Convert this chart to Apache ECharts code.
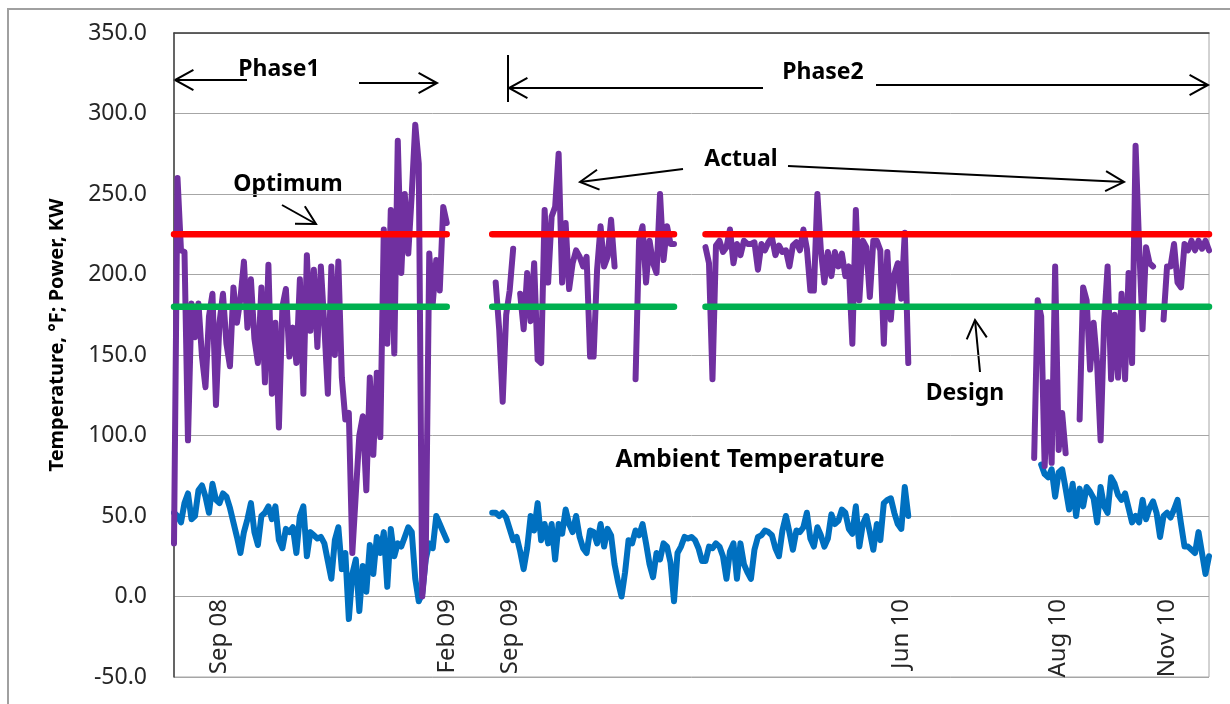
<!DOCTYPE html>
<html><head><meta charset="utf-8">
<script src="https://cdn.jsdelivr.net/npm/echarts/dist/echarts.min.js"></script>
<style>html,body{margin:0;padding:0;background:#fff}#chart{width:1230px;height:704px}</style>
</head><body><div id="chart"></div>
<script>
// ---------- DATA ----------
const sampleCount = 297;
const xTickIdx = [13, 78, 96, 208, 253, 284];
const xTickLabels = ['Sep 08', 'Feb 09', 'Sep 09', 'Jun 10', 'Aug 10', 'Nov 10'];

// Actual power (purple), by segment start sample
const actualPhase1Start = 0;
const actualPhase1 = [33, 260, 215, 214, 97, 182, 161, 182, 149, 130,
 174, 188, 119, 170, 188, 157, 143, 192, 170, 185,
 208, 167, 197, 160, 145, 192, 133, 206, 126, 170,
 105, 180, 191, 149, 167, 145, 197, 126, 212, 165,
 203, 155, 205, 168, 126, 205, 150, 208, 136, 110,
 114, 27, 64, 100, 112, 66, 136, 88, 139, 99,
 228, 157, 240, 151, 283, 201, 250, 213, 250, 293,
 269, 0, 25, 213, 182, 209, 190, 242, 232];
const actualPhase2aStart = 91;
const actualPhase2a = [null, 195, 166, 121, 175, 190, 216, null, 188, 166,
 201, 171, 207, 147, 145, 240, 195, 236, 242, 275,
 195, 232, 191, 207, 215, 211, 205, 211, 149, 149,
 203, 230, 205, 211, 234, 205, null, null, null, null,
 null, 135, 221, 230, 195, 221, 207, 201, 250, 209,
 230, 219, 219];
const actualPhase2bStart = 152;
const actualPhase2b = [217, 207, 135, 218, 221, 214, 217, 228, 207, 219,
 212, 221, 219, 219, 220, 203, 219, 215, 220, 223,
 212, 218, 214, 215, 205, 218, 220, 215, 228, 216,
 190, 190, 250, 215, 195, 214, 199, 214, 205, 213,
 199, 205, 157, 240, 184, 221, 217, 186, 221, 221,
 215, 157, 214, 172, 200, 207, 185, 226, 145];
const actualPhase2cStart = 246;
const actualPhase2c = [86, 184, 174, 81, 133, 83, 205, 91, 114, 89,
 null, null, null, 110, 192, 184, 141, 170, 145, 97,
 170, 205, 135, 175, 136, 188, 135, 201, 145, 280,
 219, 166, 217, 207, 205, null, null, 172, 205, 205,
 219, 195, 192, 219, 215, 221, 215, 221, 216, 221,
 215];

// Ambient temperature (blue)
const ambientPhase1Start = 0;
const ambientPhase1 = [52, 50, 46, 58, 64, 48, 50, 66, 69, 62,
 52, 70, 60, 58, 64, 62, 55, 46, 37, 27,
 40, 48, 58, 40, 32, 50, 52, 56, 48, 56,
 35, 30, 42, 40, 43, 27, 50, 56, 25, 40,
 38, 36, 37, 33, 22, 11, 35, 43, 17, 27,
 -14, 14, 23, -9, 19, 3, 32, 14, 37, 27,
 40, 6, 42, 25, 33, 31, 37, 43, 40, 11,
 -3, 2, 23, 33, 30, 50, 45, 40, 35];
const ambientPhase2aStart = 91;
const ambientPhase2a = [52, 52, 50, 52, 49, 42, 35, 37, 28, 17,
 30, 50, 41, 58, 35, 45, 33, 45, 23, 45,
 39, 54, 45, 40, 50, 37, 30, 27, 41, 40,
 33, 45, 31, 42, 38, 20, 9, 0, 15, 35,
 33, 41, 38, 45, 33, 20, 12, 27, 23, 33,
 31, 21, -3, 27, 31, 37, 36, 37, 35, 30,
 22, 22, 31, 30, 33, 31, 25, 11, 28, 33,
 11, 33, 20, 15, 11, 29, 37, 38, 41, 40,
 38, 30, 25, 41, 50, 40, 29, 41, 40, 43,
 52, 36, 31, 43, 38, 31, 36, 51, 45, 47,
 54, 52, 42, 39, 56, 31, 45, 50, 40, 29,
 45, 35, 58, 60, 61, 52, 45, 42, 68, 50];
const ambientPhase2bStart = 248;
const ambientPhase2b = [82, 76, 74, 79, 62, 77, 79, 67, 54, 70,
 50, 67, 56, 68, 65, 61, 46, 68, 56, 52,
 74, 70, 63, 60, 64, 55, 46, 50, 46, 60,
 48, 55, 59, 52, 37, 50, 52, 49, 54, 60,
 45, 31, 31, 29, 27, 40, 27, 14, 25];

// Reference levels and the sample spans where they are drawn
const optimumValue = 225;
const designValue = 180;
const referenceSpans = [[0, 78], [91, 143], [152, 296]];

// ---------- BUILD ----------
function place(segments) {
  const out = new Array(sampleCount).fill(null);
  segments.forEach(([start, arr]) => arr.forEach((v, k) => { out[start + k] = v; }));
  return out;
}
function level(value) {
  const out = new Array(sampleCount).fill(null);
  referenceSpans.forEach(([a, b]) => { for (let i = a; i <= b; i++) out[i] = value; });
  return out;
}
const categories = Array.from({length: sampleCount}, (_, i) => String(i));
const actual = place([[actualPhase1Start, actualPhase1], [actualPhase2aStart, actualPhase2a],
                      [actualPhase2bStart, actualPhase2b], [actualPhase2cStart, actualPhase2c]]);
const ambient = place([[ambientPhase1Start, ambientPhase1], [ambientPhase2aStart, ambientPhase2a],
                       [ambientPhase2bStart, ambientPhase2b]]);
const optimum = level(optimumValue);
const design = level(designValue);

const FONT = '"Noto Sans", "Open Sans", sans-serif';
function arrow(x1, y1, x2, y2) {
  const a = Math.atan2(y2 - y1, x2 - x1), L = 21, w = 0.5;
  const p1 = [x2 - L * Math.cos(a - w), y2 - L * Math.sin(a - w)];
  const p2 = [x2 - L * Math.cos(a + w), y2 - L * Math.sin(a + w)];
  return [
    {type: 'line', silent: true, shape: {x1, y1, x2, y2}, style: {stroke: '#000', lineWidth: 2}},
    {type: 'polyline', silent: true, shape: {points: [p1, [x2, y2], p2]}, style: {stroke: '#000', lineWidth: 2, fill: null}}
  ];
}
function label(text, x, y, size) {
  return {type: 'text', silent: true, x, y, style: {text, fontFamily: FONT, fontWeight: 'bold', fontSize: size || 23, fill: '#000', align: 'center', verticalAlign: 'middle'}};
}

const graphics = [
  {type: 'rect', silent: true, shape: {x: 8, y: 9, width: 1300, height: 800}, style: {fill: null, stroke: '#a0a0a0', lineWidth: 2}},
  {type: 'text', silent: true, x: 57, y: 335, rotation: Math.PI / 2,
   style: {text: 'Temperature, °F; Power, KW', fontFamily: FONT, fontWeight: 'bold', fontSize: 20, fill: '#000', align: 'center', verticalAlign: 'middle'}},
  label('Phase1', 279, 69),
  label('Phase2', 823, 72),
  label('Optimum', 288, 184),
  label('Actual', 741, 159),
  label('Design', 965, 393),
  label('Ambient Temperature', 750, 460, 24.5),
  {type: 'line', silent: true, shape: {x1: 508, y1: 55, x2: 508, y2: 102}, style: {stroke: '#000', lineWidth: 2}},
  ...arrow(247, 80, 175, 80),
  ...arrow(359, 83, 437, 83),
  ...arrow(763, 88, 509, 88),
  ...arrow(876, 85, 1208, 85),
  ...arrow(282, 205, 316, 224),
  ...arrow(683, 169, 580, 182),
  ...arrow(788, 166, 1124, 182),
  ...arrow(980, 372, 975, 320)
];

const chart = echarts.init(document.getElementById('chart'));
chart.setOption({
  animation: false,
  backgroundColor: '#fff',
  grid: {left: 174, right: 21, top: 33, bottom: 27, show: true, borderColor: '#a6a6a6', borderWidth: 1,
         containLabel: false, outerBoundsMode: 'none'},
  xAxis: [{
    type: 'category', data: categories, boundaryGap: false, offset: -81,
    axisLine: {show: false, onZero: false},
    axisTick: {show: false}, splitLine: {show: false},
    axisLabel: {
      interval: (i) => xTickIdx.includes(i),
      formatter: (v, i) => xTickLabels[xTickIdx.indexOf(i)] || '',
      rotate: 90, margin: 3, fontFamily: FONT, fontSize: 24, color: '#262626'
    }
  }, {
    type: 'category', data: categories, boundaryGap: false, position: 'top',
    axisLine: {show: true, onZero: false, lineStyle: {color: '#404040', width: 1.5}},
    axisTick: {show: false}, axisLabel: {show: false}, splitLine: {show: false}
  }],
  yAxis: {
    type: 'value', min: -50, max: 350, interval: 50,
    axisLine: {show: true, lineStyle: {color: '#404040', width: 1.5}},
    axisTick: {show: false},
    splitLine: {lineStyle: {color: '#a6a6a6', width: 1}},
    axisLabel: {formatter: (v) => v.toFixed(1), fontFamily: FONT, fontSize: 23, color: '#262626', margin: 27}
  },
  series: [
    {name: 'Ambient Temperature', type: 'line', data: ambient, symbol: 'none', z: 2,
     lineStyle: {color: '#0070C0', width: 6, cap: 'round', join: 'round'}},
    {name: 'Actual', type: 'line', data: actual, symbol: 'none', z: 3,
     lineStyle: {color: '#7030A0', width: 6, cap: 'round', join: 'round'}},
    {name: 'Design', type: 'line', data: design, symbol: 'none', z: 4,
     lineStyle: {color: '#00B050', width: 6.5, cap: 'round'}},
    {name: 'Optimum', type: 'line', data: optimum, symbol: 'none', z: 5,
     lineStyle: {color: '#FF0000', width: 6.5, cap: 'round'}}
  ],
  graphic: graphics
});
</script></body></html>
